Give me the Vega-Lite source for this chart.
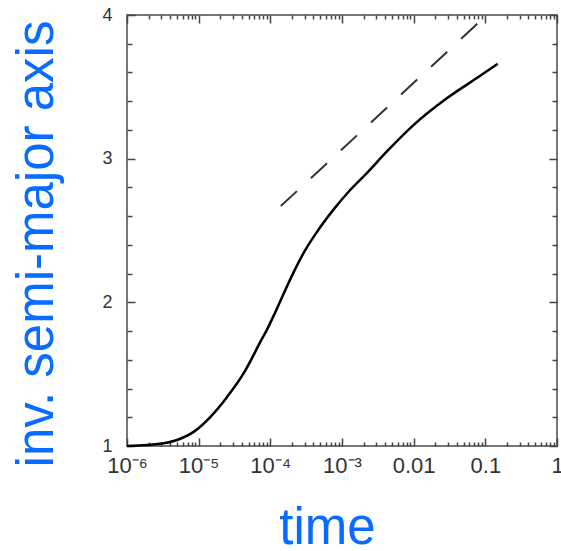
{
  "$schema": "https://vega.github.io/schema/vega-lite/v6.json",
  "width": 430,
  "height": 431,
  "autosize": {"type": "none"},
  "padding": {"left": 127, "top": 15, "right": 4, "bottom": 105},
  "background": "white",
  "config": {
    "view": {"stroke": "#777", "strokeWidth": 2},
    "axis": {
      "domain": false,
      "grid": false,
      "tickColor": "#444",
      "tickWidth": 1.5,
      "labelFont": "Liberation Sans",
      "titleFont": "Liberation Sans",
      "labelColor": "#333",
      "labelFlush": false,
      "labelOverlap": false,
      "labelBound": false
    }
  },
  "datasets": {
    "solid": [
      {"t": 0.000001, "a": 1.0},
      {"t": 0.0000019, "a": 1.007},
      {"t": 0.0000029, "a": 1.015},
      {"t": 0.000005, "a": 1.042},
      {"t": 0.0000086, "a": 1.1},
      {"t": 0.0000144, "a": 1.2},
      {"t": 0.0000248, "a": 1.34},
      {"t": 0.0000429, "a": 1.51},
      {"t": 0.0000553, "a": 1.61},
      {"t": 0.0000716, "a": 1.72},
      {"t": 0.0000898, "a": 1.81},
      {"t": 0.000112, "a": 1.91},
      {"t": 0.00015, "a": 2.05},
      {"t": 0.000207, "a": 2.2},
      {"t": 0.000304, "a": 2.36},
      {"t": 0.000447, "a": 2.49},
      {"t": 0.000746, "a": 2.64},
      {"t": 0.00129, "a": 2.78},
      {"t": 0.00222, "a": 2.9},
      {"t": 0.00423, "a": 3.05},
      {"t": 0.00975, "a": 3.23},
      {"t": 0.029, "a": 3.42},
      {"t": 0.0838, "a": 3.575},
      {"t": 0.149, "a": 3.66}
    ],
    "dashed": [
      {"t": 0.00014, "a": 2.67},
      {"t": 0.105, "a": 4.0}
    ]
  },
  "layer": [
    {
      "data": {"name": "solid"},
      "mark": {"type": "line", "color": "black", "strokeWidth": 2.5, "interpolate": "monotone"},
      "encoding": {
        "x": {
          "field": "t", "type": "quantitative",
          "scale": {"type": "log", "domain": [0.000001, 1], "nice": false},
          "axis": {
            "orient": "bottom",
            "values": [0.000001, 0.00001, 0.0001, 0.001, 0.01, 0.1, 1],
            "tickSize": -8,
            "labelFontSize": 22,
            "labelBaseline": "alphabetic",
            "labelPadding": 34,
            "labelExpr": "datum.value <= 0.0000011 ? '10⁻⁶' : datum.value <= 0.000011 ? '10⁻⁵' : datum.value <= 0.00011 ? '10⁻⁴' : datum.value <= 0.0011 ? '10⁻³' : datum.value <= 0.011 ? '0.01' : datum.value <= 0.11 ? '0.1' : '1'",
            "title": "time",
            "titleFontSize": 51,
            "titleFontWeight": "normal",
            "titleColor": "#0a6cff",
            "titleX": 200,
            "titleY": 97,
            "titleAlign": "center",
            "titleBaseline": "alphabetic"
          }
        },
        "y": {
          "field": "a", "type": "quantitative",
          "scale": {"domain": [1, 4], "nice": false, "zero": false},
          "axis": {
            "orient": "left",
            "values": [1, 2, 3, 4],
            "tickSize": -8,
            "labelFontSize": 18,
            "labelPadding": 23,
            "labelBaseline": "middle",
            "title": "inv. semi-major axis",
            "titleFontSize": 51,
            "titleFontWeight": "normal",
            "titleColor": "#0a6cff",
            "titleX": -75,
            "titleY": 228.5,
            "titleAngle": -90,
            "titleAlign": "center",
            "titleBaseline": "alphabetic"
          }
        }
      }
    },
    {
      "data": {"name": "dashed"},
      "mark": {"type": "line", "color": "#333", "strokeWidth": 2, "strokeDash": [22, 19]},
      "encoding": {
        "x": {
          "field": "t", "type": "quantitative",
          "scale": {"type": "log", "domain": [0.000001, 1], "nice": false},
          "axis": {
            "orient": "top",
            "values": [0.000001, 0.00001, 0.0001, 0.001, 0.01, 0.1, 1],
            "tickSize": -8,
            "labels": false,
            "title": null
          }
        },
        "y": {
          "field": "a", "type": "quantitative",
          "scale": {"domain": [1, 4], "nice": false, "zero": false},
          "axis": {
            "orient": "right",
            "values": [1, 2, 3, 4],
            "tickSize": -8,
            "labels": false,
            "title": null
          }
        }
      }
    },
    {
      "data": {"name": "solid"},
      "mark": {"type": "line", "color": "black", "strokeOpacity": 0},
      "encoding": {
        "x": {
          "field": "t", "type": "quantitative",
          "scale": {"type": "log", "domain": [0.000001, 1], "nice": false},
          "axis": {
            "orient": "bottom",
            "values": [0.000002, 0.000003, 0.000004, 0.000005, 0.000006, 0.000007, 0.000008, 0.000009,
                       0.00002, 0.00003, 0.00004, 0.00005, 0.00006, 0.00007, 0.00008, 0.00009,
                       0.0002, 0.0003, 0.0004, 0.0005, 0.0006, 0.0007, 0.0008, 0.0009,
                       0.002, 0.003, 0.004, 0.005, 0.006, 0.007, 0.008, 0.009,
                       0.02, 0.03, 0.04, 0.05, 0.06, 0.07, 0.08, 0.09,
                       0.2, 0.3, 0.4, 0.5, 0.6, 0.7, 0.8, 0.9],
            "tickSize": -4,
            "labels": false,
            "title": null
          }
        },
        "y": {
          "field": "a", "type": "quantitative",
          "scale": {"domain": [1, 4], "nice": false, "zero": false},
          "axis": {
            "orient": "left",
            "values": [1.2, 1.4, 1.6, 1.8, 2.2, 2.4, 2.6, 2.8, 3.2, 3.4, 3.6, 3.8],
            "tickSize": -5,
            "labels": false,
            "title": null
          }
        }
      }
    },
    {
      "data": {"name": "dashed"},
      "mark": {"type": "line", "color": "black", "strokeOpacity": 0},
      "encoding": {
        "x": {
          "field": "t", "type": "quantitative",
          "scale": {"type": "log", "domain": [0.000001, 1], "nice": false},
          "axis": {
            "orient": "top",
            "values": [0.000002, 0.000003, 0.000004, 0.000005, 0.000006, 0.000007, 0.000008, 0.000009,
                       0.00002, 0.00003, 0.00004, 0.00005, 0.00006, 0.00007, 0.00008, 0.00009,
                       0.0002, 0.0003, 0.0004, 0.0005, 0.0006, 0.0007, 0.0008, 0.0009,
                       0.002, 0.003, 0.004, 0.005, 0.006, 0.007, 0.008, 0.009,
                       0.02, 0.03, 0.04, 0.05, 0.06, 0.07, 0.08, 0.09,
                       0.2, 0.3, 0.4, 0.5, 0.6, 0.7, 0.8, 0.9],
            "tickSize": -4,
            "labels": false,
            "title": null
          }
        },
        "y": {
          "field": "a", "type": "quantitative",
          "scale": {"domain": [1, 4], "nice": false, "zero": false},
          "axis": {
            "orient": "right",
            "values": [1.2, 1.4, 1.6, 1.8, 2.2, 2.4, 2.6, 2.8, 3.2, 3.4, 3.6, 3.8],
            "tickSize": -5,
            "labels": false,
            "title": null
          }
        }
      }
    }
  ],
  "resolve": {"axis": {"x": "independent", "y": "independent"}}
}
